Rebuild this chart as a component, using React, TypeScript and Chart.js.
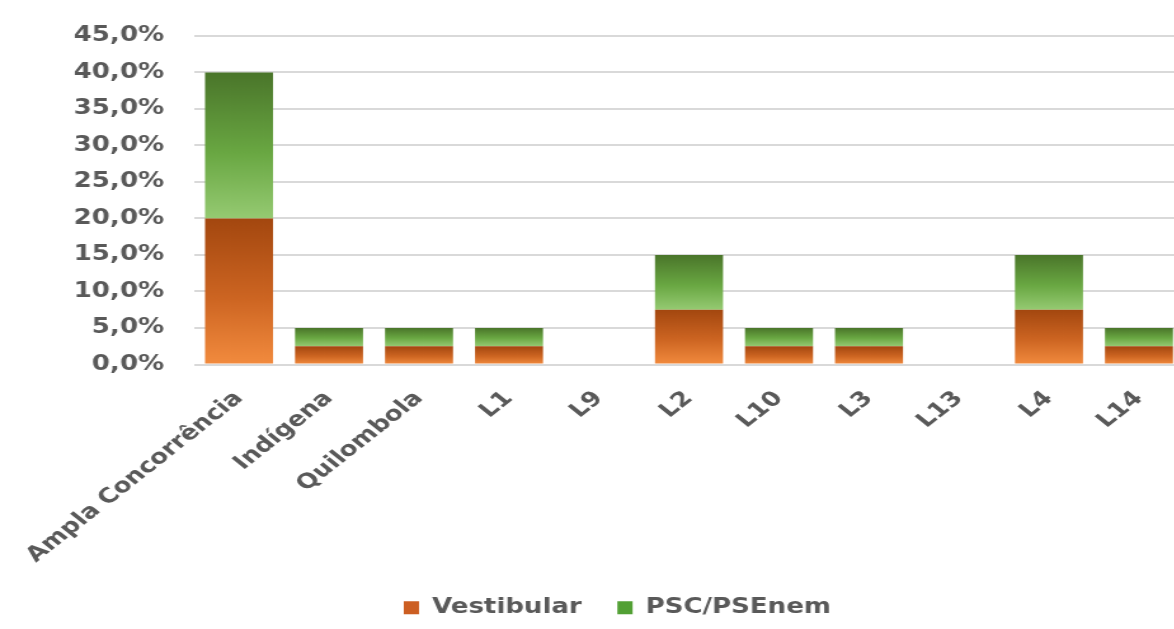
import React, { useEffect, useRef } from 'react';
import { Chart, registerables } from 'chart.js';

Chart.register(...registerables);

const categories = ['Ampla Concorrência', 'Indígena', 'Quilombola', 'L1', 'L9', 'L2', 'L10', 'L3', 'L13', 'L4', 'L14'];
const vestibular = [20, 2.5, 2.5, 2.5, 0, 7.5, 2.5, 2.5, 0, 7.5, 2.5];
const pscPsenem = [20, 2.5, 2.5, 2.5, 0, 7.5, 2.5, 2.5, 0, 7.5, 2.5];
const seriesNames = ['Vestibular', 'PSC/PSEnem'];
const yTickValues = [0, 5, 10, 15, 20, 25, 30, 35, 40, 45];

const FONT = '"DejaVu Sans", "Liberation Sans", sans-serif';
const TEXT = '#595959';

// internal drawing size; the canvas is displayed horizontally stretched like the reference
const W_INT = 960;
const H = 629;
const W_CSS = 1219;

const orangeStops = ['#a3470f', '#cd6522', '#f28b3e'];
const greenStops = ['#4a752a', '#69a742', '#95ca72'];
const legendColors = ['#cc5e22', '#52a034'];

function makeFill(stops: string[], solid: string, own: number[], below: number[] | null) {
  return (ctx: any) => {
    if (ctx.type !== 'data') return solid;
    const chart = ctx.chart;
    const y = chart.scales && chart.scales.y;
    if (!y || !chart.chartArea) return solid;
    const i = ctx.dataIndex;
    const base = below ? below[i] : 0;
    const top = base + own[i];
    const y0 = y.getPixelForValue(base);
    const y1 = y.getPixelForValue(top);
    if (!isFinite(y0) || !isFinite(y1) || y0 === y1) return solid;
    const g = chart.ctx.createLinearGradient(0, y1, 0, y0);
    g.addColorStop(0, stops[0]);
    g.addColorStop(0.55, stops[1]);
    g.addColorStop(1, stops[2]);
    return g;
  };
}

export default function App() {
  const ref = useRef<HTMLCanvasElement | null>(null);

  useEffect(() => {
    const canvas = ref.current;
    if (!canvas) return;
    const padB = 1;
    const padL = 40;
    const baseGen = (Chart as any).defaults.plugins.legend.labels.generateLabels;
    const chart = new Chart(canvas, {
      type: 'bar',
      data: {
        labels: categories,
        datasets: [
          {
            label: seriesNames[0],
            data: vestibular,
            backgroundColor: makeFill(orangeStops, legendColors[0], vestibular, null),
            borderWidth: 0,
          },
          {
            label: seriesNames[1],
            data: pscPsenem,
            backgroundColor: makeFill(greenStops, legendColors[1], pscPsenem, vestibular),
            borderWidth: 0,
          },
        ],
      },
      options: {
        responsive: false,
        animation: false,
        devicePixelRatio: 1,
        layout: { padding: { top: 28.5, left: padL, right: 27.6, bottom: padB } },
        datasets: { bar: { categoryPercentage: 1, barPercentage: 0.756 } },
        plugins: {
          title: { display: false },
          tooltip: { enabled: false },
          legend: {
            display: true,
            position: 'bottom',
            labels: {
              boxWidth: 12,
              boxHeight: 13,
              padding: 28,
              color: TEXT,
              font: { family: FONT, size: 20.5, weight: 'bold' },
              generateLabels: (c: any) =>
                baseGen(c).map((item: any, i: number) => ({
                  ...item,
                  fillStyle: legendColors[i],
                  strokeStyle: legendColors[i],
                  lineWidth: 0,
                })),
            },
          },
        },
        scales: {
          x: {
            stacked: true,
            grid: { display: false },
            border: { display: false },
            ticks: {
              color: TEXT,
              font: { family: FONT, size: 20.5, weight: 'bold' },
              minRotation: 45,
              maxRotation: 45,
              padding: 14,
              autoSkip: false,
            },
            afterFit: (scale: any) => {
              const lh = scale.chart.legend ? scale.chart.legend.height : 0;
              scale.height = H - 364.5 - lh - padB;
            },
          },
          y: {
            stacked: true,
            min: 0,
            max: 45,
            afterBuildTicks: (scale: any) => {
              scale.ticks = yTickValues.map((v) => ({ value: v }));
            },
            grid: { color: '#d9d9d9', lineWidth: 2, drawTicks: false },
            border: { display: false },
            ticks: {
              color: TEXT,
              padding: 23.6,
              font: { family: FONT, size: 20.5, weight: 'bold' },
              callback: (v: any) => Number(v).toFixed(1).replace('.', ',') + '%',
            },
            afterFit: (scale: any) => {
              scale.width = 152.8 - padL;
            },
          },
        },
      },
    } as any);
    return () => chart.destroy();
  }, []);

  return (
    <div
      style={{
        position: 'fixed',
        left: 0,
        top: 0,
        width: 1174,
        height: H,
        overflow: 'hidden',
        background: '#ffffff',
      }}
    >
      <canvas
        ref={ref}
        width={W_INT}
        height={H}
        style={{ width: W_CSS + 'px', height: H + 'px', display: 'block' }}
      />
    </div>
  );
}
